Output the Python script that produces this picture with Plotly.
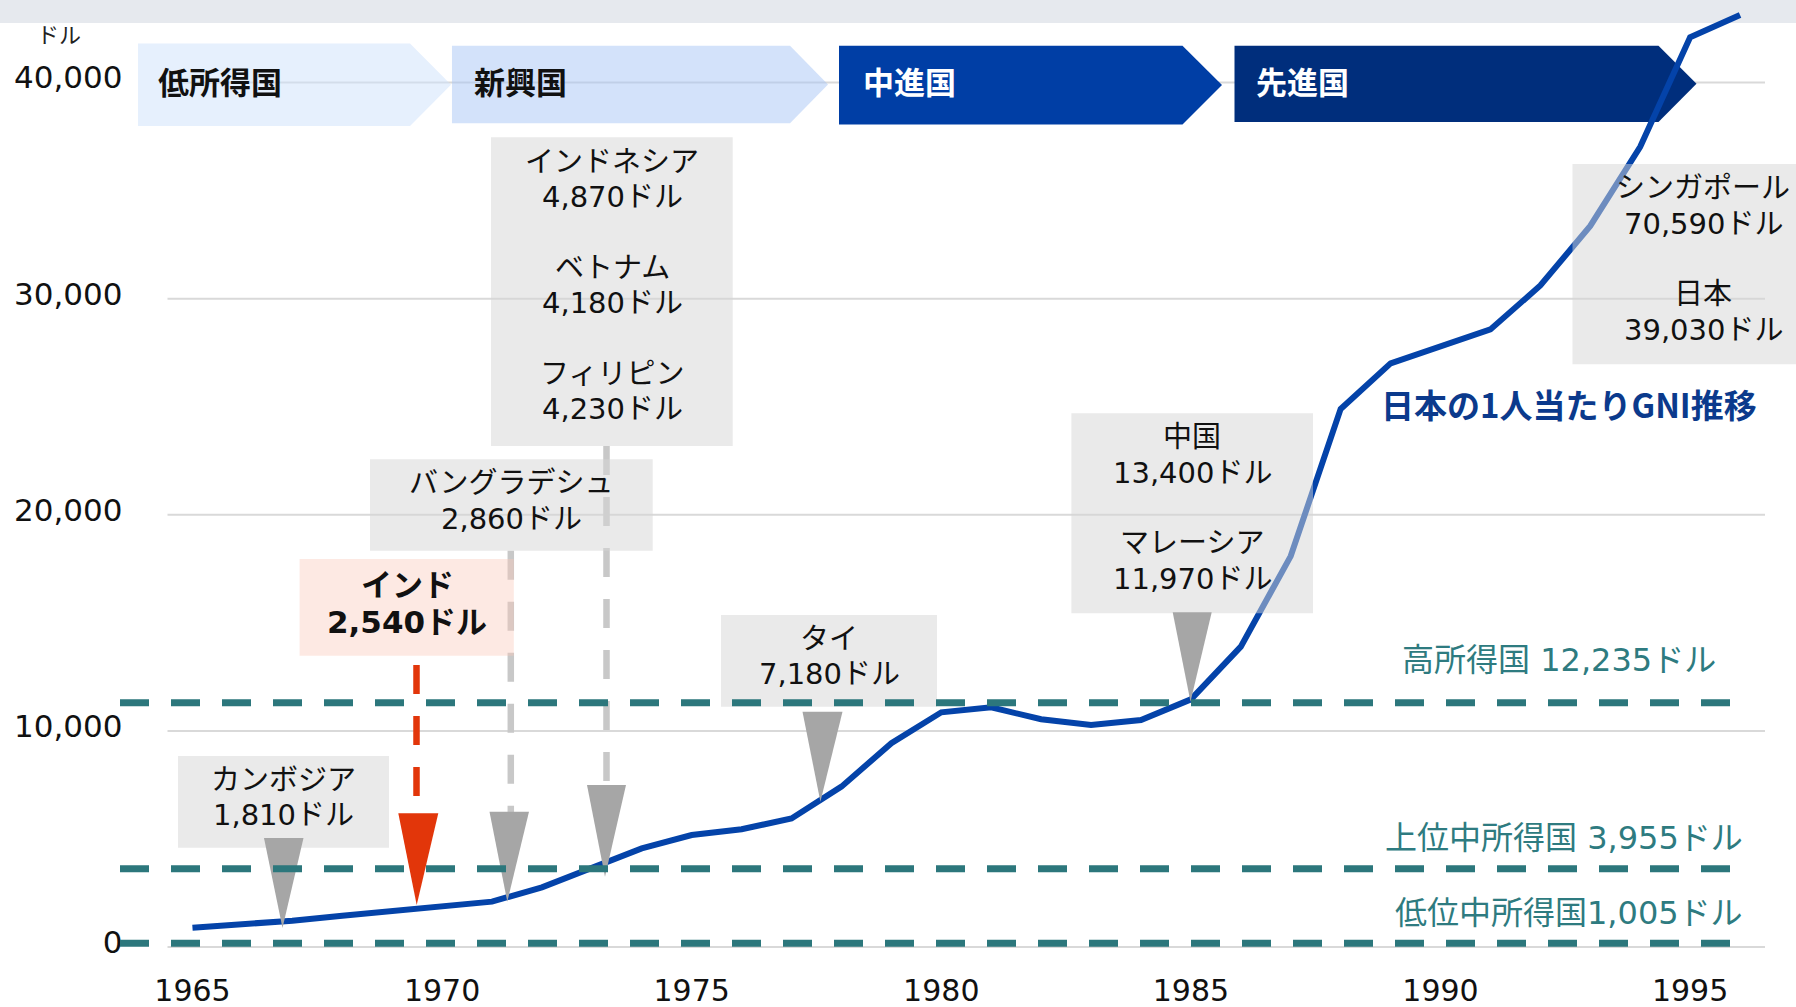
import plotly.graph_objects as go

W, H = 1796, 1007

# 日本の1人当たりGNI（ドル）
YEARS = list(range(1965, 1997))
JAPAN_GNI = [
    890, 1030, 1220, 1450, 1660, 1830, 2100, 2760, 3640, 4560,
    5180, 5450, 5950, 7420, 9430, 10860, 11090, 10540, 10270, 10500,
    11460, 13900, 18090, 24900, 27010, 27800, 28580, 30610, 33370, 37030,
    42100, 43130,
]
Y_TICKS = [0, 10000, 20000, 30000, 40000]

STAGES = ["低所得国", "新興国", "中進国", "先進国"]

COUNTRIES = ["カンボジア", "インド", "バングラデシュ", "インドネシア", "ベトナム",
             "フィリピン", "タイ", "中国", "マレーシア", "シンガポール", "日本"]
COUNTRY_GNI = [1810, 2540, 2860, 4870, 4180, 4230, 7180, 13400, 11970, 70590, 39030]

THRESHOLD_NAMES = ["高所得国", "上位中所得国", "低位中所得国"]
THRESHOLD_USD = [12235, 3955, 1005]
THRESHOLD_DRAWN_AT = [11300, 3620, 170]  # where the dashed lines sit in the picture

SERIES_NAME = "日本の1人当たりGNI推移"
UNIT = "ドル"

FONT = "DejaVu Sans, Noto Sans CJK JP, sans-serif"
JP_BOLD = "Noto Sans CJK JP, sans-serif"
TEAL = "#2C777C"
BOX_GREY = "rgba(214,214,214,0.5)"
BOX_PINK = "rgba(250,200,185,0.4)"
TRI_GREY = "#A6A6A6"
RED = "#E2360A"

# pixel geometry of the plot area
X_LEFT_PX, X_RIGHT_PX = 167.5, 1765
Y_ZERO_PX, Y_BOTTOM_PX = 947, 954
PX_PER_USD = 216.1 / 10000


def fx(x):
    return x / W


def fy(y):
    return 1 - y / H


def poly(points):
    d = "M " + " L ".join(f"{fx(x):.5f},{fy(y):.5f}" for x, y in points) + " Z"
    return d


def money(v):
    return f"{v:,}{UNIT}"


shapes = []
annotations = []

# horizontal grid (drawn as shapes so the stage arrows can sit on top of it)
for v in Y_TICKS:
    shapes.append(dict(type="line", xref="paper", yref="y", x0=fx(X_LEFT_PX), x1=fx(X_RIGHT_PX),
                       y0=v, y1=v, layer="below", line=dict(color="#D9D9D9", width=2)))

# top grey band
shapes.append(dict(type="rect", xref="paper", yref="paper", x0=0, x1=1, y0=fy(23), y1=1,
                   fillcolor="#E6E9EE", line=dict(width=0), layer="below"))

# stage chevrons
chevrons = [
    (138, 410, 451, 43.5, 126, "rgba(205,225,251,0.5)", "#111111", 156),
    (452, 790, 828, 45.7, 123.3, "rgba(168,198,245,0.5)", "#111111", 472),
    (839, 1182.5, 1222, 45.7, 124.5, "#003EA5", "#FFFFFF", 861),
    (1234.5, 1658.5, 1696.5, 45.7, 122, "#002E7C", "#FFFFFF", 1254),
]
for name, (l, r, tip, t, b, fill, tcol, tx) in zip(STAGES, chevrons):
    m = (t + b) / 2
    shapes.append(dict(type="path", xref="paper", yref="paper",
                       path=poly([(l, t), (r, t), (tip, m), (r, b), (l, b)]),
                       fillcolor=fill, line=dict(width=0), layer="below"))
    annotations.append(dict(text=f"<b>{name}</b>", x=fx(tx), y=fy(80), xref="paper", yref="paper",
                            xanchor="left", yanchor="middle", showarrow=False,
                            font=dict(family=JP_BOLD, size=31, color=tcol)))

# vertical dashed leaders
leaders = [
    (510.8, 550.7, 812, "#C8C8C8"),
    (606.5, 446, 786, "#C8C8C8"),
    (416.5, 665, 797, RED),
]
for x, y0, y1, col in leaders:
    shapes.append(dict(type="line", xref="paper", yref="paper", x0=fx(x), x1=fx(x),
                       y0=fy(y0), y1=fy(y1), layer="above",
                       line=dict(color=col, width=6.5, dash="29px,22px")))

# callout boxes: (country indices, x0, x1, y0, y1, fill, text centre x, first line y)
boxes = [
    ([0], 178, 389, 756, 847.7, BOX_GREY, 283.5, 780),
    ([1], 299.6, 513.8, 559, 655.7, BOX_PINK, 407, 585),
    ([2], 370, 652.7, 459.3, 550.7, BOX_GREY, 511, 483.3),
    ([3, 4, 5], 491, 732.7, 137.3, 446, BOX_GREY, 612, 161.7),
    ([6], 721, 937, 615, 706.7, BOX_GREY, 829, 639),
    ([7, 8], 1071.4, 1313, 413.3, 613.3, BOX_GREY, 1192, 437.3),
    ([9, 10], 1572.5, 1796, 164, 364.3, BOX_GREY, 1703, 188.3),
]
LINE_STEP = 35.3
for idxs, x0, x1, y0, y1, fill, cx, ly in boxes:
    shapes.append(dict(type="rect", xref="paper", yref="paper", x0=fx(x0), x1=fx(x1),
                       y0=fy(y1), y1=fy(y0), fillcolor=fill, line=dict(width=0), layer="above"))
    bold = fill == BOX_PINK
    for k, i in enumerate(idxs):
        lines = [COUNTRIES[i], money(COUNTRY_GNI[i])]
        for j, txt in enumerate(lines):
            y = ly + (k * 3 + j) * LINE_STEP + (j * 1.4 if bold else 0)
            annotations.append(dict(
                text=f"<b>{txt}</b>" if bold else txt,
                x=fx(cx), y=fy(y), xref="paper", yref="paper",
                xanchor="center", yanchor="middle", showarrow=False,
                font=dict(family=FONT, size=31 if bold else 29, color="#111111"),
            ))

# pointer triangles: (base left, base right, base y, tip x, tip y, colour)
triangles = [
    (264, 303.5, 838, 282.5, 928, TRI_GREY),
    (398.3, 438.3, 813.3, 416.7, 905, RED),
    (489.5, 529, 811.7, 507.3, 901.7, TRI_GREY),
    (587, 626, 785, 605, 876.7, TRI_GREY),
    (802.5, 842.5, 711.7, 820.4, 801.7, TRI_GREY),
    (1172.7, 1211.7, 612.3, 1190.5, 701.7, TRI_GREY),
]
for bl, br, by, tx, ty, col in triangles:
    shapes.append(dict(type="path", xref="paper", yref="paper",
                       path=poly([(bl, by), (br, by), (tx, ty)]),
                       fillcolor=col, line=dict(width=0), layer="above"))

# income thresholds
th_label_pos = [(1718, 660), (1745, 838.3), (1745, 913.3)]
seps = [" ", " ", ""]
for name, usd, lvl, sep, (lx, ly) in zip(THRESHOLD_NAMES, THRESHOLD_USD, THRESHOLD_DRAWN_AT,
                                         seps, th_label_pos):
    shapes.append(dict(type="line", xref="paper", yref="y", x0=fx(120), x1=fx(1742),
                       y0=lvl, y1=lvl, layer="above",
                       line=dict(color=TEAL, width=7, dash="29px,22px")))
    annotations.append(dict(text=f"{name}{sep}{money(usd)}", x=fx(lx), y=fy(ly),
                            xref="paper", yref="paper", xanchor="right", yanchor="middle",
                            showarrow=False, font=dict(family=FONT, size=32, color="#2E7B80")))

annotations.append(dict(text=f"<b>{SERIES_NAME}</b>", x=fx(1568.5), y=fy(404), xref="paper",
                        yref="paper", xanchor="center", yanchor="middle", showarrow=False,
                        font=dict(family=JP_BOLD, size=33, color="#0B3A8C")))
annotations.append(dict(text=UNIT, x=fx(59), y=fy(36), xref="paper", yref="paper",
                        xanchor="center", yanchor="middle", showarrow=False,
                        font=dict(family=FONT, size=22, color="#222222")))

fig = go.Figure()
fig.add_trace(go.Scatter(x=YEARS, y=JAPAN_GNI, mode="lines", name=SERIES_NAME,
                         line=dict(color="#0443A9", width=6), hoverinfo="skip"))

fig.update_layout(
    width=W, height=H,
    margin=dict(l=0, r=0, t=0, b=0, autoexpand=False),
    paper_bgcolor="white",
    plot_bgcolor="rgba(0,0,0,0)",
    showlegend=False,
    shapes=shapes,
    annotations=annotations,
    font=dict(family=FONT, color="#111111"),
)
fig.update_xaxes(
    domain=[X_LEFT_PX / W, X_RIGHT_PX / W], range=[1964.5, 1996.5], automargin=False,
    tick0=1965, dtick=5, showgrid=False, zeroline=False, showline=False, ticks="",
    tickfont=dict(family=FONT, size=30, color="#111111"), ticklabelstandoff=16,
)
fig.update_yaxes(
    domain=[1 - Y_BOTTOM_PX / H, 1], automargin=False,
    range=[-(Y_BOTTOM_PX - Y_ZERO_PX) / PX_PER_USD, Y_ZERO_PX / PX_PER_USD],
    tickvals=Y_TICKS, tickformat=",",
    showgrid=False, zeroline=False, showline=False, ticks="",
    tickfont=dict(family=FONT, size=31, color="#111111"), ticklabelstandoff=44, ticklabelshift=-5,
)

fig.write_html("out.html", config={"displayModeBar": False},
               post_script="document.body.style.margin='0';document.body.style.overflow='hidden';")
